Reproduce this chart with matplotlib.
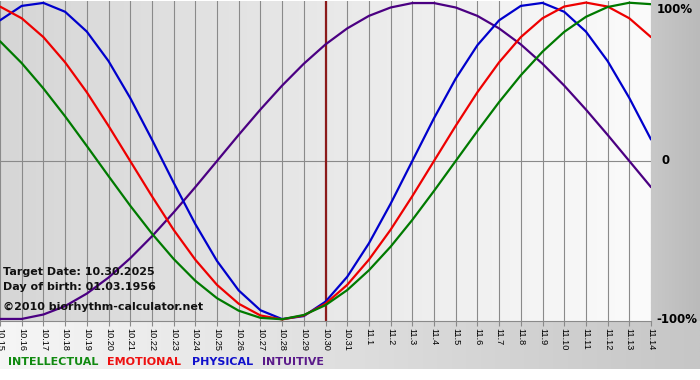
import matplotlib
matplotlib.use('Agg')
import matplotlib.pyplot as plt
import numpy as np
from matplotlib.colors import LinearSegmentedColormap
from matplotlib.transforms import blended_transform_factory

dates = ['10.15', '10.16', '10.17', '10.18', '10.19', '10.20', '10.21', '10.22',
         '10.23', '10.24', '10.25', '10.26', '10.27', '10.28', '10.29', '10.30',
         '10.31', '11.1', '11.2', '11.3', '11.4', '11.5', '11.6', '11.7', '11.8',
         '11.9', '11.10', '11.11', '11.12', '11.13', '11.14']

physical = [0.888, 0.979, 0.998, 0.942, 0.817, 0.631, 0.398, 0.136, -0.136, -0.398,
            -0.631, -0.817, -0.942, -0.998, -0.979, -0.888, -0.731, -0.520, -0.270, 0.0,
            0.270, 0.520, 0.731, 0.888, 0.979, 0.998, 0.942, 0.817, 0.631, 0.398, 0.136]

emotional = [0.975, 0.901, 0.782, 0.623, 0.434, 0.222, 0.0, -0.222, -0.434, -0.623,
             -0.782, -0.901, -0.975, -1.0, -0.975, -0.901, -0.782, -0.623, -0.434, -0.222,
             0.0, 0.222, 0.434, 0.623, 0.782, 0.901, 0.975, 1.0, 0.975, 0.901, 0.782]

intellectual = [0.756, 0.618, 0.458, 0.282, 0.095, -0.095, -0.282, -0.458, -0.618, -0.756,
                -0.866, -0.945, -0.990, -0.999, -0.972, -0.910, -0.815, -0.690, -0.541, -0.372,
                -0.189, 0.0, 0.189, 0.372, 0.541, 0.690, 0.815, 0.910, 0.972, 0.999, 0.990]

intuitive = [-0.997, -0.997, -0.969, -0.916, -0.837, -0.736, -0.614, -0.476, -0.325, -0.165,
             0.0, 0.165, 0.325, 0.476, 0.614, 0.736, 0.837, 0.916, 0.969, 0.997,
             0.997, 0.969, 0.916, 0.837, 0.736, 0.614, 0.476, 0.325, 0.165, 0.0, -0.165]

series_names = ['INTELLECTUAL', 'EMOTIONAL', 'PHYSICAL', 'INTUITIVE']
target_date = '10.30'
y_labels = ['100%', '0', '-100%']
info_lines = ['Target Date: 10.30.2025', 'Day of birth: 01.03.1956', '\u00a92010 biorhythm-calculator.net']

line_colors = {'INTELLECTUAL': '#007a00', 'EMOTIONAL': '#ee0000',
               'PHYSICAL': '#0000cc', 'INTUITIVE': '#4b0082'}
legend_colors = {'INTELLECTUAL': '#108a10', 'EMOTIONAL': '#ee1010',
                 'PHYSICAL': '#1010cc', 'INTUITIVE': '#5a1a8a'}

W, H = 700, 380
fig = plt.figure(figsize=(W / 100, H / 100), dpi=100)
fig.patch.set_facecolor('white')

grad = np.linspace(0, 1, 256).reshape(1, -1)
cm_margin = LinearSegmentedColormap.from_list('m', ['#c8c8c8', '#bababa'])
cm_band = LinearSegmentedColormap.from_list('b', ['#f6f6f6', '#c6c6c6'])
cm_plot = LinearSegmentedColormap.from_list('p', ['#d6d6d6', '#fbfbfb'])

bg = fig.add_axes([0, 0, 1, 1], zorder=0)
bg.imshow(grad, cmap=cm_margin, extent=(651, 700, 369, 0), aspect='auto', interpolation='bilinear')
bg.imshow(grad, cmap=cm_band, extent=(0, 700, 369, 321), aspect='auto', interpolation='bilinear')
bg.set_xlim(0, W)
bg.set_ylim(H, 0)
bg.axis('off')

ax = fig.add_axes([0, (H - 321) / H, 651 / W, 320 / H], zorder=1)
ax.set_facecolor('none')
x = np.arange(len(dates))
ylo, yhi = -1.01, 1.01
ax.imshow(grad, cmap=cm_plot, extent=(x[0], x[-1], ylo, yhi), aspect='auto',
          interpolation='bilinear', zorder=0)
for xi in x:
    ax.axvline(xi, color='#8a8a8a', lw=0.8, zorder=1)
ax.axhline(0, color='#8a8a8a', lw=0.8, zorder=1)
ax.axvline(dates.index(target_date), color='#8b1a1a', lw=1.6, zorder=2)

data = {'INTELLECTUAL': intellectual, 'EMOTIONAL': emotional,
        'PHYSICAL': physical, 'INTUITIVE': intuitive}
for name in ['INTUITIVE', 'PHYSICAL', 'EMOTIONAL', 'INTELLECTUAL']:
    ax.plot(x, data[name], color=line_colors[name], lw=1.6, zorder=3,
            solid_joinstyle='round', solid_capstyle='round')

ax.set_xlim(x[0], x[-1])
ax.set_ylim(ylo, yhi)
for s in ['top', 'left', 'right']:
    ax.spines[s].set_visible(False)
ax.spines['bottom'].set_color('#8a8a8a')
ax.spines['bottom'].set_linewidth(0.8)
ax.set_xticks(x)
ax.set_xticklabels(dates, rotation=270, fontsize=6.6, family='Liberation Sans',
                   va='top', ha='center', color='black')
ax.tick_params(axis='x', length=3.6, width=0.8, color='#8a8a8a', pad=1.2)
ax.set_yticks([])

tr = blended_transform_factory(ax.transAxes, ax.transData)
ax.text(1.009, 1.0, y_labels[0], transform=tr, fontsize=8.5, fontweight='bold',
        va='top', ha='left', clip_on=False)
ax.text(1.016, 0.0, y_labels[1], transform=tr, fontsize=8.5, fontweight='bold',
        va='center', ha='left', clip_on=False)
ax.text(1.009, -1.0, y_labels[2], transform=tr, fontsize=8.5, fontweight='bold',
        va='center', ha='left', clip_on=False)

for txt, yp in zip(info_lines, [272, 287, 307]):
    fig.text(3 / W, 1 - yp / H, txt, fontsize=8, fontweight='bold', va='center',
             ha='left', color='#111111', zorder=5)

for name, xp in zip(series_names, [8, 107, 192, 262]):
    fig.text(xp / W, 1 - 362 / H, name, fontsize=8, fontweight='bold',
             color=legend_colors[name], va='center', ha='left')

fig.savefig('out.png', dpi=100, facecolor=fig.get_facecolor())
